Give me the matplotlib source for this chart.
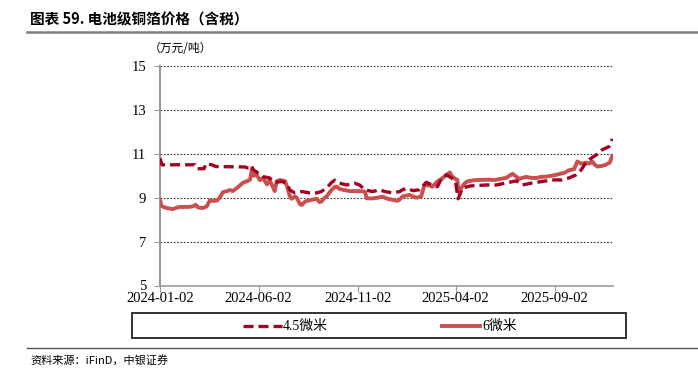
import matplotlib
matplotlib.use("Agg")
import matplotlib.pyplot as plt
from matplotlib.lines import Line2D
from matplotlib.patches import Rectangle
import pandas as pd

plt.rcParams['font.family'] = ['Liberation Serif', 'Noto Sans CJK SC', 'DejaVu Sans']

title = "图表 59. 电池级铜箔价格（含税）"
unit = "（万元/吨）"
source = "资料来源：iFinD，中银证券"
series_names = ["4.5微米", "6微米"]
xtick_labels = ["2024-01-02", "2024-06-02", "2024-11-02", "2025-04-02", "2025-09-02"]
yticks = [5, 7, 9, 11, 13, 15]

dates_6 = ["2024-01-02", "2024-01-04", "2024-01-07", "2024-01-14", "2024-01-22", "2024-01-28",
           "2024-02-02", "2024-02-17", "2024-02-23", "2024-02-26", "2024-03-01", "2024-03-08",
           "2024-03-14", "2024-03-19", "2024-03-24", "2024-03-30", "2024-04-03", "2024-04-08",
           "2024-04-14", "2024-04-19", "2024-04-23", "2024-04-30", "2024-05-04", "2024-05-09",
           "2024-05-15", "2024-05-20", "2024-05-23", "2024-05-26", "2024-05-30", "2024-06-04",
           "2024-06-09", "2024-06-15", "2024-06-19", "2024-06-24", "2024-06-27", "2024-06-30",
           "2024-07-05", "2024-07-13", "2024-07-17", "2024-07-20", "2024-07-23", "2024-07-28",
           "2024-07-31", "2024-08-05", "2024-08-08", "2024-08-12", "2024-08-15", "2024-08-23",
           "2024-08-31", "2024-09-04", "2024-09-07", "2024-09-12", "2024-09-15", "2024-09-20",
           "2024-09-23", "2024-09-28", "2024-10-01", "2024-10-05", "2024-10-10", "2024-10-21",
           "2024-11-05", "2024-11-13", "2024-11-16", "2024-11-25", "2024-12-03", "2024-12-10",
           "2024-12-18", "2024-12-26", "2025-01-03", "2025-01-06", "2025-01-10", "2025-01-21",
           "2025-01-27", "2025-02-01", "2025-02-08", "2025-02-13", "2025-02-21", "2025-02-25",
           "2025-03-05", "2025-03-11", "2025-03-16", "2025-03-24", "2025-03-28", "2025-04-02",
           "2025-04-05", "2025-04-06", "2025-04-08", "2025-04-11", "2025-04-16", "2025-04-20",
           "2025-05-01", "2025-05-09", "2025-05-24", "2025-06-01", "2025-06-09", "2025-06-19",
           "2025-06-29", "2025-07-05", "2025-07-09", "2025-07-20", "2025-07-28", "2025-08-05",
           "2025-08-12", "2025-08-20", "2025-08-28", "2025-09-04", "2025-09-12", "2025-09-17",
           "2025-09-24", "2025-10-02", "2025-10-07", "2025-10-13", "2025-10-21", "2025-10-25",
           "2025-10-30", "2025-11-03", "2025-11-07", "2025-11-14", "2025-11-20", "2025-11-26",
           "2025-11-30"]
vals_6 = [8.9, 8.65, 8.58, 8.52, 8.48, 8.55,
          8.58, 8.58, 8.62, 8.68, 8.55, 8.53,
          8.6, 8.88, 8.85, 8.87, 9.0, 9.25,
          9.3, 9.35, 9.3, 9.45, 9.55, 9.68,
          9.75, 9.82, 10.3, 10.0, 10.05, 9.8,
          9.9, 9.6, 9.8, 9.5, 9.3, 9.75,
          9.81, 9.75, 9.43, 9.1, 8.95, 9.05,
          9.0, 8.7, 8.67, 8.8, 8.85, 8.9,
          8.95, 8.8, 8.82, 9.0, 9.05, 9.25,
          9.36, 9.5, 9.5, 9.4, 9.36, 9.3,
          9.3, 9.28, 8.97, 8.97, 9.0, 9.05,
          8.95, 8.9, 8.86, 8.92, 9.05, 9.13,
          9.05, 9.0, 9.05, 9.58, 9.55, 9.5,
          9.74, 9.85, 9.96, 10.15, 9.96, 9.85,
          9.81, 9.3, 9.22, 9.45, 9.65, 9.74,
          9.8, 9.81, 9.82, 9.8, 9.85, 9.9,
          10.09, 9.95, 9.86, 9.95, 9.9, 9.9,
          9.95, 9.96, 10.0, 10.04, 10.1, 10.13,
          10.25, 10.3, 10.65, 10.55, 10.6, 10.55,
          10.65, 10.5, 10.42, 10.45, 10.5, 10.6,
          10.9]

dates_45 = ["2024-01-02", "2024-01-05", "2024-02-25", "2024-02-28", "2024-03-10", "2024-03-13",
            "2024-03-22", "2024-03-28", "2024-05-12", "2024-05-17", "2024-05-20", "2024-05-23",
            "2024-05-24", "2024-06-01", "2024-06-09", "2024-06-19", "2024-06-27", "2024-07-09",
            "2024-07-17", "2024-07-20", "2024-07-28", "2024-08-08", "2024-08-20", "2024-08-31",
            "2024-09-07", "2024-09-17", "2024-09-23", "2024-09-28", "2024-10-05", "2024-10-16",
            "2024-10-28", "2024-11-05", "2024-11-13", "2024-11-25", "2024-12-06", "2024-12-14",
            "2024-12-26", "2025-01-06", "2025-01-10", "2025-01-18", "2025-01-26", "2025-02-05",
            "2025-02-16", "2025-02-25", "2025-03-05", "2025-03-13", "2025-03-19", "2025-03-27",
            "2025-04-02", "2025-04-06", "2025-04-13", "2025-04-26", "2025-05-20", "2025-06-04",
            "2025-06-19", "2025-07-05", "2025-07-14", "2025-07-29", "2025-08-14", "2025-08-29",
            "2025-09-13", "2025-09-24", "2025-10-05", "2025-10-13", "2025-10-18", "2025-10-25",
            "2025-11-05", "2025-11-14", "2025-11-25", "2025-11-30"]
vals_45 = [10.8, 10.5, 10.5, 10.32, 10.32, 10.55,
           10.5, 10.42, 10.4, 10.35, 10.35, 10.45,
           10.3, 10.13, 9.96, 9.9, 9.7, 9.74,
           9.6, 9.36, 9.22, 9.28, 9.22, 9.22,
           9.28, 9.5, 9.7, 9.8, 9.66, 9.58,
           9.66, 9.58, 9.36, 9.28, 9.36, 9.28,
           9.22, 9.28, 9.36, 9.43, 9.32, 9.36,
           9.7, 9.58, 9.5, 9.96, 10.04, 9.9,
           9.74, 8.95, 9.45, 9.54, 9.58, 9.58,
           9.67, 9.77, 9.58, 9.67, 9.74, 9.81,
           9.81, 9.9, 10.04, 10.27, 10.5, 10.73,
           10.95, 11.18, 11.33, 11.68]

d6 = pd.to_datetime(dates_6)
d45 = pd.to_datetime(dates_45)

fig = plt.figure(figsize=(6.98, 3.70), dpi=100)
ax = fig.add_axes([160/698, 1-285.5/370, (613-160)/698, (285.5-66)/370])

c45 = "#A50021"
c6 = "#C9504E"
ax.plot(d6, vals_6, color=c6, lw=2.8, solid_joinstyle='round', zorder=3)
ax.plot(d45, vals_45, color=c45, lw=2.4, dashes=(3.0, 1.5), zorder=4)

ax.set_ylim(5, 15)
ax.set_yticks(yticks)
ax.set_xlim(pd.Timestamp("2024-01-02"), pd.Timestamp("2025-12-01"))
ax.set_xticks(pd.to_datetime(xtick_labels))
ax.set_xticklabels(xtick_labels)
for y in yticks[1:]:
    ax.axhline(y, color="#333333", lw=0.8, ls=(0, (1.5, 1.5)), zorder=1)
for s in ["top", "right"]:
    ax.spines[s].set_visible(False)
ax.spines["left"].set_color("#999999")
ax.spines["left"].set_linewidth(1.5)
ax.spines["bottom"].set_color("#999999")
ax.spines["bottom"].set_linewidth(1.2)
ax.tick_params(axis="both", labelsize=10.5, colors="black", length=4, width=0.8)
ax.tick_params(axis="y", color="#999999", pad=6)
ax.tick_params(axis="x", color="#999999", pad=1)

fig.text(149/698, 1-49/370, unit, fontsize=8.5, va="center", ha="left",
         family=['Noto Sans CJK SC'])
fig.text(30/698, 1-19/370, title, fontsize=10.5, fontweight="bold", va="center", ha="left",
         family=['Noto Sans CJK SC'])
fig.add_artist(Line2D([27/698, 1], [1-32/370, 1-32/370], color="#808080", lw=1.8))
fig.add_artist(Line2D([27/698, 1], [1-348/370, 1-348/370], color="#555555", lw=1.0))
fig.text(30/698, 1-360/370, source, fontsize=8, va="center", ha="left", style="italic",
         family=['Noto Sans CJK SC'])

# legend box
fig.add_artist(Rectangle((132/698, 1-338/370), (626-132)/698, (338-313)/370,
                         transform=fig.transFigure, fill=False, ec="#222222", lw=1.3))
ly = 1-326/370
fig.add_artist(Line2D([243/698, 282/698], [ly, ly], color=c45, lw=2.4, dashes=(3.0, 1.5)))
fig.text(283/698, ly, series_names[0], fontsize=10, va="center", ha="left")
fig.add_artist(Line2D([442/698, 480/698], [ly, ly], color=c6, lw=2.8))
fig.text(482/698, ly, series_names[1], fontsize=10, va="center", ha="left")

fig.savefig("out.png", dpi=100)
